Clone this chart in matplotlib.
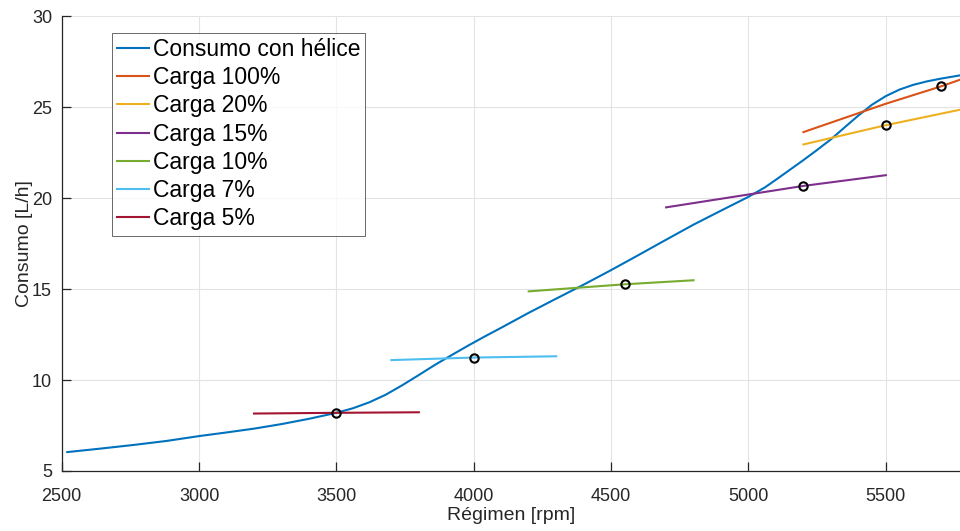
import matplotlib
matplotlib.use("Agg")
import matplotlib.pyplot as plt

plt.rcParams['font.family'] = ['Liberation Sans', 'DejaVu Sans']

# Propeller consumption curve
rpm_helice = [2520, 2640, 2760, 2880, 3000, 3100, 3200, 3300, 3400, 3500,
              3560, 3620, 3680, 3740, 3800, 3860, 3920, 3980, 4040, 4100,
              4200, 4300, 4400, 4500, 4600, 4700, 4800, 4900, 5000, 5060,
              5100, 5150, 5200, 5250, 5300, 5350, 5400, 5450, 5500, 5550,
              5600, 5650, 5700, 5770]
cons_helice = [6.04, 6.23, 6.43, 6.65, 6.92, 7.12, 7.33, 7.58, 7.87, 8.20,
               8.45, 8.78, 9.20, 9.72, 10.28, 10.85, 11.38, 11.90, 12.40, 12.88,
               13.70, 14.48, 15.25, 16.05, 16.88, 17.72, 18.55, 19.32, 20.08, 20.60,
               21.02, 21.56, 22.10, 22.66, 23.24, 23.90, 24.55, 25.15, 25.62, 25.98,
               26.24, 26.43, 26.58, 26.76]

# Engine load curves
rpm_c100 = [5200, 5500, 5700, 5770]
cons_c100 = [23.64, 25.20, 26.15, 26.52]
rpm_c20 = [5200, 5500, 5770]
cons_c20 = [22.96, 24.02, 24.87]
rpm_c15 = [4700, 5200, 5500]
cons_c15 = [19.50, 20.68, 21.27]
rpm_c10 = [4200, 4550, 4800]
cons_c10 = [14.88, 15.27, 15.49]
rpm_c7 = [3700, 4000, 4300]
cons_c7 = [11.10, 11.24, 11.31]
rpm_c5 = [3200, 3500, 3800]
cons_c5 = [8.16, 8.20, 8.23]

# Operating points (propeller curve meets each load curve)
rpm_op = [3500, 4000, 4550, 5200, 5500, 5700]
cons_op = [8.20, 11.24, 15.27, 20.68, 24.02, 26.15]

x_ticks = [2500, 3000, 3500, 4000, 4500, 5000, 5500]
y_ticks = [5, 10, 15, 20, 25, 30]

fig = plt.figure(figsize=(9.6, 5.31), dpi=100)
ax = fig.add_axes([0.0643, 0.113, 0.9357, 0.856])

lw = 1.5
ax.plot(rpm_helice, cons_helice, color='#0072BD', lw=lw, label='Consumo con hélice')
ax.plot(rpm_c100, cons_c100, color='#D95319', lw=lw, label='Carga 100%')
ax.plot(rpm_c20, cons_c20, color='#EDB120', lw=lw, label='Carga 20%')
ax.plot(rpm_c15, cons_c15, color='#7E2F8E', lw=lw, label='Carga 15%')
ax.plot(rpm_c10, cons_c10, color='#77AC30', lw=lw, label='Carga 10%')
ax.plot(rpm_c7, cons_c7, color='#4DBEEE', lw=lw, label='Carga 7%')
ax.plot(rpm_c5, cons_c5, color='#A2142F', lw=lw, label='Carga 5%')
ax.plot(rpm_op, cons_op, linestyle='none', marker='o', markersize=6,
        markerfacecolor='none', markeredgecolor='black', markeredgewidth=1.5,
        zorder=5)

ax.set_xlim(2500, 5770)
ax.set_ylim(5, 30)
ax.set_xticks(x_ticks)
ax.set_yticks(y_ticks)

dark = '#262626'
ax.grid(True, color='#e3e3e3', linewidth=0.8)
ax.set_axisbelow(True)
for side in ['top', 'right']:
    ax.spines[side].set_visible(False)
for side in ['left', 'bottom']:
    ax.spines[side].set_color(dark)
    ax.spines[side].set_linewidth(0.9)
ax.tick_params(direction='in', length=6.5, width=0.9, color=dark,
               labelcolor=dark, labelsize=13)
ax.tick_params(axis='x', pad=12)
ax.tick_params(axis='y', pad=7)

ax.set_xlabel('Régimen [rpm]', fontsize=14, color=dark, labelpad=2)
ax.set_ylabel('Consumo [L/h]', fontsize=14, color=dark, labelpad=-1)

leg = ax.legend(loc='upper left', bbox_to_anchor=(0.0557, 0.964),
                fontsize=16.5, frameon=True, fancybox=False, shadow=False,
                borderpad=0.22, labelspacing=0.23, handlelength=1.4,
                handletextpad=0.17, borderaxespad=0)
leg.get_frame().set_edgecolor('#262626')
leg.get_frame().set_linewidth(0.6)
for t in leg.get_texts():
    t.set_color('black')

fig.savefig('out.png', dpi=100)
